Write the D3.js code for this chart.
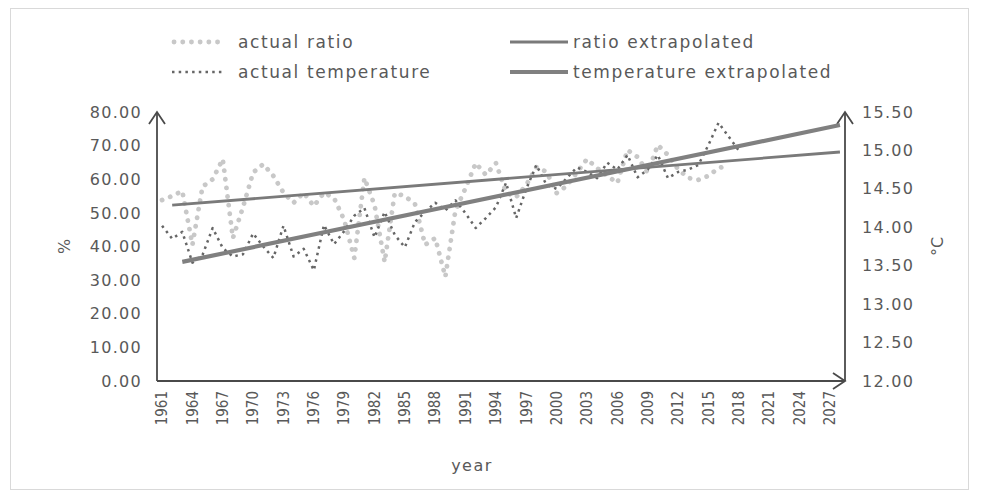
<!DOCTYPE html>
<html>
<head>
<meta charset="utf-8">
<script src="https://cdn.jsdelivr.net/npm/d3@7"></script>
<style>
  body { margin: 0; background: #fff; }
  text { font-family: "DejaVu Sans", sans-serif; fill: #595959; }
</style>
</head>
<body>
<div id="chart"></div>
<script>
// categories on the x axis (Excel style category axis)
var years = [1961,1962,1963,1964,1965,1966,1967,1968,1969,1970,1971,1972,1973,1974,1975,1976,1977,1978,1979,1980,
  1981,1982,1983,1984,1985,1986,1987,1988,1989,1990,1991,1992,1993,1994,1995,1996,1997,1998,1999,2000,
  2001,2002,2003,2004,2005,2006,2007,2008,2009,2010,2011,2012,2013,2014,2015,2016,2017,2018,2019,2020,
  2021,2022,2023,2024,2025,2026,2027,2028];
var yearLabels = [1961,1964,1967,1970,1973,1976,1979,1982,1985,1988,1991,1994,1997,2000,2003,2006,2009,2012,2015,2018,2021,2024,2027];

// actual ratio (%), 1961 - 2017
var ratioYears = years.slice(0, 57);
var ratio = [53.8,55.0,56.5,40.5,57.8,60.0,66.0,42.5,51.7,62.0,
  64.5,61.0,56.0,53.0,56.0,52.0,56.0,54.4,47.9,36.6,
  60.4,52.3,35.4,55.9,55.0,52.6,40.5,42.5,31.0,50.8,
  57.4,64.8,61.3,64.8,56.0,54.7,58.3,63.6,62.2,55.9,
  58.0,62.0,66.0,63.3,61.0,58.9,68.7,66.6,62.0,70.2,
  67.2,63.0,60.4,59.8,61.0,63.3,64.2];

// actual temperature (deg C), 1961 - 2018
var tempYears = years.slice(0, 58);
var temperature = [14.02,13.85,13.94,13.54,13.64,13.99,13.73,13.62,13.65,13.92,
  13.75,13.60,14.02,13.62,13.72,13.44,14.03,13.78,13.95,14.15,
  14.25,13.87,14.20,13.90,13.74,14.07,14.20,14.32,14.22,14.35,
  14.18,13.99,14.12,14.26,14.58,14.12,14.50,14.81,14.55,14.50,
  14.64,14.78,14.72,14.64,14.84,14.75,14.94,14.65,14.75,14.94,
  14.64,14.72,14.75,14.81,15.07,15.36,15.18,15.00];

// extrapolated trend lines (end points)
var ratioExtrapYears = [1962, 2028];
var ratioExtrap = [52.3, 68.1];
var tempExtrapYears = [1963, 2028];
var tempExtrap = [13.55, 15.33];

// axis ticks
var leftTicks = [0,10,20,30,40,50,60,70,80];
var rightTicks = [12,12.5,13,13.5,14,14.5,15,15.5];

var W = 982, H = 499;
var plot = {left: 157, right: 845, top: 112, bottom: 381};

var svg = d3.select("#chart").append("svg")
    .attr("width", W)
    .attr("height", H);

// chart border
svg.append("rect")
    .attr("x", 10.5).attr("y", 8.5)
    .attr("width", 958).attr("height", 481)
    .style("fill", "none")
    .style("stroke", "#d9d9d9");

var x = d3.scaleBand().domain(years).range([plot.left, plot.right]).padding(0);
var yL = d3.scaleLinear().domain([0, 80]).range([plot.bottom, plot.top]);
var yR = d3.scaleLinear().domain([12, 15.5]).range([plot.bottom, plot.top]);
var cx = function(yr) { return x(yr) + x.bandwidth() / 2; };

//left axis
var gL = svg.append("g")
    .attr("transform", "translate(" + plot.left + ",0)")
    .call(d3.axisLeft(yL).tickValues(leftTicks).tickSize(0).tickPadding(15).tickFormat(d3.format(".2f")));
gL.select(".domain").remove();

//right axis
var gR = svg.append("g")
    .attr("transform", "translate(" + plot.right + ",0)")
    .call(d3.axisRight(yR).tickValues(rightTicks).tickSize(0).tickPadding(17).tickFormat(d3.format(".2f")));
gR.select(".domain").remove();

svg.selectAll("g.tick text")
    .attr("font-family", null)
    .style("font-size", "16px")
    .style("letter-spacing", "1.3px")
    .style("fill", "#595959");

//bottom axis with rotated year labels
var gB = svg.append("g")
    .attr("transform", "translate(0," + plot.bottom + ")")
    .call(d3.axisBottom(x).tickValues(yearLabels).tickSize(0));
gB.select(".domain").remove();
gB.selectAll("text")
    .attr("font-family", null)
    .style("font-family", "'DejaVu Sans Condensed', 'DejaVu Sans', sans-serif")
    .style("font-size", "15px")
    .style("fill", "#595959")
    .attr("text-anchor", "end")
    .attr("transform", "rotate(-90)")
    .attr("x", -10)
    .attr("y", 0)
    .attr("dy", "0.35em");

// axis lines with open arrow heads
var axisColor = "#4a4a4a";
var axes = svg.append("g")
    .style("stroke", axisColor)
    .style("stroke-width", 1.8)
    .style("fill", "none");
var x0 = x.range()[0], x1 = x.range()[1];
var y0 = yL.range()[0], y1 = yL.range()[1];
axes.append("path").attr("d", "M" + x0 + "," + y0 + "V" + y1);
axes.append("path").attr("d", "M" + (x0 - 8) + "," + (y1 + 12) + "L" + x0 + "," + y1 + "L" + (x0 + 8) + "," + (y1 + 12));
axes.append("path").attr("d", "M" + x0 + "," + y0 + "H" + x1);
axes.append("path").attr("d", "M" + (x1 - 12) + "," + (y0 - 8) + "L" + x1 + "," + y0 + "L" + (x1 - 12) + "," + (y0 + 8));
axes.append("path").attr("d", "M" + x1 + "," + y0 + "V" + y1);
axes.append("path").attr("d", "M" + (x1 - 8) + "," + (y1 + 12) + "L" + x1 + "," + y1 + "L" + (x1 + 8) + "," + (y1 + 12));

// series styles
var styles = {
  ratio: {stroke: "#c8c8c8", width: 4.8, dash: "0.1,8.6", cap: "round"},
  temp: {stroke: "#666666", width: 2.5, dash: "2.5,4.2", cap: "butt"},
  ratioEx: {stroke: "#7a7a7a", width: 2.8, dash: null, cap: "butt"},
  tempEx: {stroke: "#808080", width: 4.2, dash: null, cap: "butt"}
};

function drawLine(xs, vals, scale, st) {
  var line = d3.line()
      .x(function(d, i) { return cx(xs[i]); })
      .y(function(d) { return scale(d); });
  svg.append("path")
      .datum(vals)
      .attr("d", line)
      .style("fill", "none")
      .style("stroke", st.stroke)
      .style("stroke-width", st.width)
      .style("stroke-dasharray", st.dash)
      .style("stroke-linecap", st.cap)
      .style("stroke-linejoin", "round");
}

drawLine(ratioYears, ratio, yL, styles.ratio);
drawLine(tempYears, temperature, yR, styles.temp);
drawLine(ratioExtrapYears, ratioExtrap, yL, styles.ratioEx);
drawLine(tempExtrapYears, tempExtrap, yR, styles.tempEx);

// axis titles
svg.append("text")
    .attr("transform", "translate(70," + ((plot.top + plot.bottom) / 2) + ") rotate(-90)")
    .attr("text-anchor", "middle")
    .style("font-size", "16px")
    .text("%");
svg.append("text")
    .attr("transform", "translate(943," + ((plot.top + plot.bottom) / 2) + ") rotate(-90)")
    .attr("text-anchor", "middle")
    .style("font-size", "16px")
    .text("°C");
svg.append("text")
    .attr("x", 472).attr("y", 471)
    .attr("text-anchor", "middle")
    .style("font-size", "16px")
    .style("letter-spacing", "1.5px")
    .text("year");

// legend
var legend = [
  {name: "actual ratio", st: styles.ratio, x: 172, y: 42},
  {name: "actual temperature", st: styles.temp, x: 172, y: 72},
  {name: "ratio extrapolated", st: styles.ratioEx, x: 510, y: 42},
  {name: "temperature extrapolated", st: styles.tempEx, x: 510, y: 72}
];
var lg = svg.selectAll(".legend")
    .data(legend)
    .enter().append("g")
    .attr("class", "legend")
    .attr("transform", function(d) { return "translate(" + d.x + "," + d.y + ")"; });
lg.append("line")
    .attr("x1", function(d) { return d.st.cap === "round" ? 2 : 0; })
    .attr("x2", function(d) { return d.st.dash ? 52 : 58; })
    .attr("y1", 0).attr("y2", 0)
    .style("stroke", function(d) { return d.st.stroke; })
    .style("stroke-width", function(d) { return d.st.width; })
    .style("stroke-dasharray", function(d) { return d.st.dash; })
    .style("stroke-linecap", function(d) { return d.st.cap; });
lg.append("text")
    .attr("x", function(d) { return d.st.dash ? 66 : 63; })
    .attr("y", 0)
    .attr("dy", "0.35em")
    .style("font-size", "17px")
    .style("letter-spacing", "1.6px")
    .text(function(d) { return d.name; });
</script>
</body>
</html>
